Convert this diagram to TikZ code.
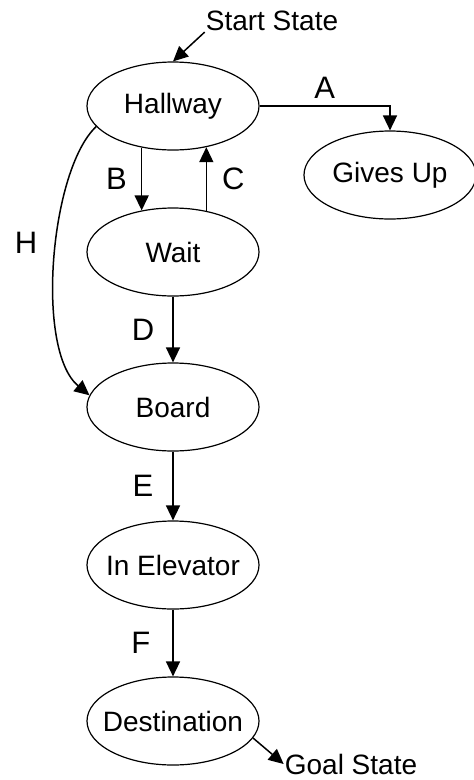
\documentclass[tikz,border=0pt]{standalone}
\usepackage{fontspec}
\setmainfont{Liberation Sans}
\usetikzlibrary{arrows.meta,shapes.geometric}

\newcommand{\stname}[1]{\makebox[0pt]{#1}}

\tikzset{
  state/.style={draw,ellipse,line width=1.2pt,minimum width=172pt,minimum height=88pt,inner sep=0pt,
    font=\fontsize{28}{30}\selectfont},
  arr/.style={line width=1.5pt,-{Triangle[length=15pt,width=14pt]}},
  lbl/.style={inner sep=0pt,font=\fontsize{31}{33}\selectfont},
  note/.style={inner sep=1pt,font=\fontsize{28}{30}\selectfont}
}

\begin{document}
\begin{tikzpicture}[x=1pt,y=-1pt]
      \useasboundingbox (0,0) rectangle (474,780);
      \node[state] (hall) at (173,106) {\stname{Hallway}};
      \node[state] (wait) at (173,252) {\stname{Wait}};
      \node[state] (board) at (173,407) {\stname{Board}};
      \node[state] (elev) at (173,565) {\stname{In Elevator}};
      \node[state] (dest) at (173,721) {\stname{Destination}};
      \node[state] (gives) at (390,175) {\stname{Gives Up}};
      \node[note] (start) at (272,21) {Start State};
      \node[note] (goal) at (351,764) {Goal State};
      \draw[arr] (start.south west) -- (hall.north);
      \draw[arr] (dest.-12) -- (goal.west);
      \draw[arr] (hall.east) -| (gives.north) node[pos=0.25,lbl,above=7pt] (a) {A};
      \draw[arr] (hall.233) -- (wait.127) node[midway,lbl,left=14pt] (b) {B};
      \draw[arr] (wait.51) -- (hall.309) node[midway,lbl,right=15pt] (c) {C};
      \draw[arr] (wait) -- (board) node[midway,lbl,left=18pt] (d) {D};
      \draw[arr] (board) -- (elev) node[midway,lbl,left=19pt] (e) {E};
      \draw[arr] (elev) -- (dest) node[midway,lbl,left=22pt] (f) {F};
      \draw[arr] (hall.195) .. controls (50,170) and (35,350) .. (board.172);
      \node[lbl] (h) at (26,243) {H};
\end{tikzpicture}
\end{document}
